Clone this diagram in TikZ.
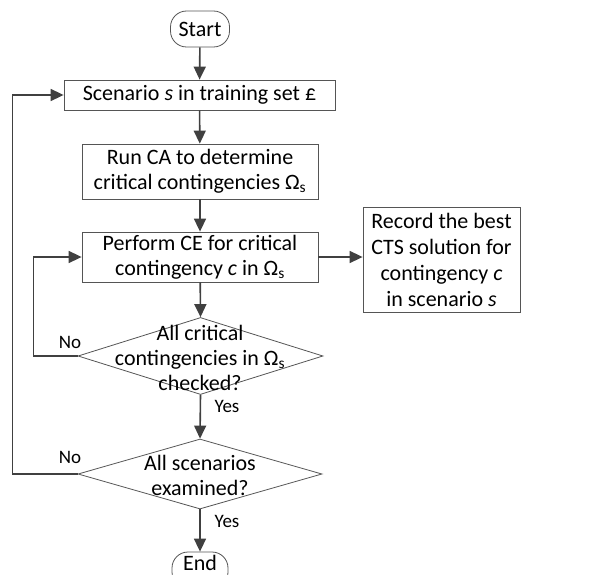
\documentclass[tikz,border=0pt]{standalone}
\usepackage{fontspec}
\setmainfont{Carlito}
\usetikzlibrary{arrows.meta,shapes.geometric}
\definecolor{ln}{HTML}{404040}
\definecolor{bd}{HTML}{555555}
\begin{document}
\begin{tikzpicture}[x=1pt,y=-1pt,
  every node/.style={font=\fontsize{22}{25}\selectfont, text=black},
  box/.style={draw=bd, line width=0.8pt, rectangle, inner sep=0pt, align=center},
  term/.style={draw=bd, line width=0.8pt, rectangle, rounded corners=16pt, inner sep=0pt},
  dia/.style={draw=bd, line width=0.8pt, diamond, inner sep=0pt},
  lbl/.style={font=\fontsize{19}{22}\selectfont, anchor=base},
  conn/.style={draw=ln, line width=1.6pt, -{Triangle[length=13pt,width=12pt]}}]
\useasboundingbox (0,0) rectangle (605,575);
\fill[white] (0,0) rectangle (605,575);

\node[term, minimum width=59pt, minimum height=36pt] (start) at (200,29) {Start};
\node[box, minimum width=271pt, minimum height=30pt] (sc) at (199.5,95) {Scenario \textit{s} in training set £};
\node[box, minimum width=236pt, minimum height=55pt] (ca) at (200,171.5) {Run CA to determine\\critical contingencies Ω\textsubscript{s}};
\node[box, minimum width=236pt, minimum height=50pt] (ce) at (200,257) {Perform CE for critical\\contingency \textit{c} in Ω\textsubscript{s}};
\node[box, minimum width=157pt, minimum height=105pt, font=\fontsize{22}{26}\selectfont] (rec) at (441.5,259.5) {Record the best\\CTS solution for\\contingency \textit{c}\\in scenario \textit{s}};
\node[dia, minimum width=245pt, minimum height=77pt] (d1) at (200.5,356) {};
\node[align=center, inner sep=0pt] (d1t) at (200,358) {All critical\\contingencies in Ω\textsubscript{s}\\checked?};
\node[dia, minimum width=244pt, minimum height=70pt] (d2) at (200,474) {};
\node[align=center, inner sep=0pt] (d2t) at (200,475) {All scenarios\\examined?};
\node[term, minimum width=56pt, minimum height=36pt, text depth=14pt] (end) at (200,570) {End};

\draw[conn] (start) -- (sc);
\draw[conn] (sc) -- (ca);
\draw[conn] (ca) -- (ce);
\draw[conn] (ce) -- (rec.west |- ce.east);
\draw[conn] (ce) -- (d1.north);
\draw[conn] (d1.south) -- (d2.north);
\draw[conn] (d2.south) -- (end);
\draw[conn] (d1.west) -- ++(-44,0) |- (ce.west);
\draw[conn] (d2.west) -- ++(-65,0) |- (sc.west);

\node[lbl] (no1) at (70,348) {No};
\node[lbl] (no2) at (70,463) {No};
\node[lbl] (yes1) at (227,412) {Yes};
\node[lbl] (yes2) at (227,527) {Yes};
\end{tikzpicture}
\end{document}
